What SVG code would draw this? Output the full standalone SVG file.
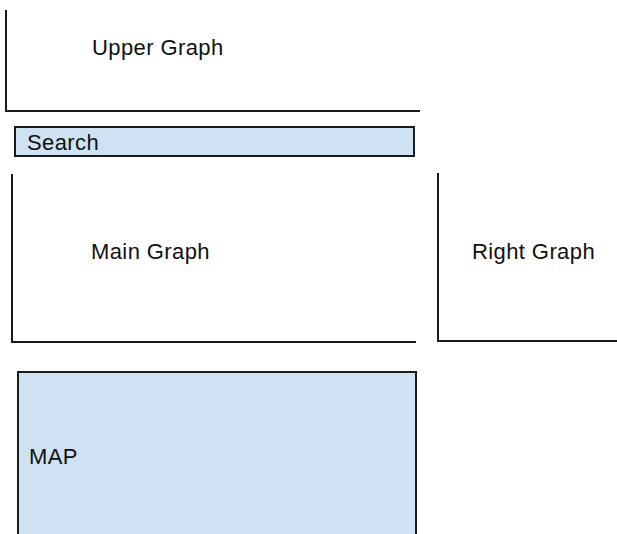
<svg xmlns="http://www.w3.org/2000/svg" width="617" height="534" viewBox="0 0 617 534">
<style>
.ln{fill:none;stroke:#1a1a1a;stroke-width:2}
.box{fill:#cfe2f3;stroke:#1a1a1a;stroke-width:2}
.t{font-family:"Liberation Sans",Arial,sans-serif;font-size:22px;letter-spacing:0.4px;fill:#111}
</style>
<rect width="617" height="534" fill="#fff"/>
<g id="upper-graph">
<path class="ln" d="M6,10 V111 H420"/>
<text class="t" x="92" y="55">Upper Graph</text>
</g>
<g id="search">
<rect class="box" x="15" y="127" width="399" height="29"/>
<text class="t" x="27" y="150">Search</text>
</g>
<g id="main-graph">
<path class="ln" d="M12,174 V342 H416"/>
<text class="t" x="91" y="259">Main Graph</text>
</g>
<g id="right-graph">
<path class="ln" d="M438,173 V341 H617"/>
<text class="t" x="472" y="259">Right Graph</text>
</g>
<g id="map">
<rect class="box" x="18" y="372" width="398" height="170"/>
<text class="t" x="29" y="464">MAP</text>
</g>
<g id="connectors"></g>
</svg>
